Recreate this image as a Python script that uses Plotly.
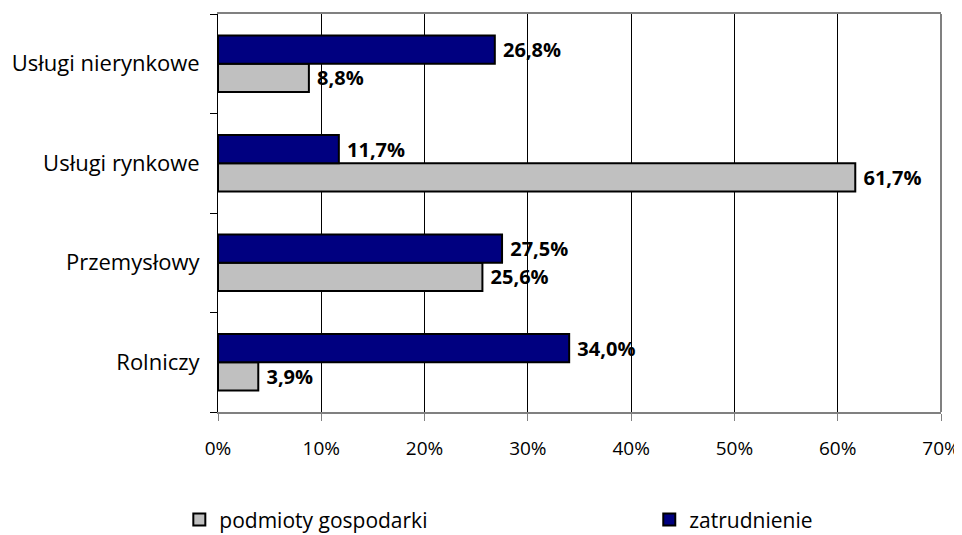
import plotly.graph_objects as go

categories = ["Rolniczy", "Przemysłowy", "Usługi rynkowe", "Usługi nierynkowe"]
podmioty = [3.9, 25.6, 61.7, 8.8]
zatrudnienie = [34.0, 27.5, 11.7, 26.8]
series_names = ["podmioty gospodarki", "zatrudnienie"]
x_ticks = [0, 10, 20, 30, 40, 50, 60, 70]
x_tick_labels = ["0%", "10%", "20%", "30%", "40%", "50%", "60%", "70%"]

FONT = "Open Sans"

def fmt(v):
    return "\u00a0" + f"{v:.1f}".replace(".", ",") + "%"

fig = go.Figure()
fig.add_trace(go.Bar(
    y=categories, x=podmioty, orientation="h", name=series_names[0],
    marker=dict(color="#C0C0C0", line=dict(color="black", width=2)),
    text=[fmt(v) for v in podmioty], textposition="outside",
    textfont=dict(family=FONT, size=20, color="black", weight="bold"),
    cliponaxis=False, legend="legend",
))
fig.add_trace(go.Bar(
    y=categories, x=zatrudnienie, orientation="h", name=series_names[1],
    marker=dict(color="#000080", line=dict(color="black", width=2)),
    text=[fmt(v) for v in zatrudnienie], textposition="outside",
    textfont=dict(family=FONT, size=20, color="black", weight="bold"),
    cliponaxis=False, legend="legend2",
))

legend_common = dict(orientation="h", yanchor="middle", y=-0.271, xanchor="left",
                     font=dict(family=FONT, size=21, color="black"),
                     bgcolor="rgba(0,0,0,0)", itemwidth=30)

# page body adds an 8px offset, so the figure is 954x527
fig.update_layout(
    width=954, height=527,
    margin=dict(l=210, r=21, t=6, b=123, autoexpand=False),
    barmode="group", bargap=0.43, bargroupgap=0,
    plot_bgcolor="white", paper_bgcolor="white",
    font=dict(family=FONT, size=16, color="black"),
    showlegend=True,
    legend=dict(x=-0.0535, **legend_common),
    legend2=dict(x=0.5965, **legend_common),
)
fig.update_xaxes(
    range=[0, 70], tickvals=x_ticks, ticktext=x_tick_labels,
    showgrid=True, gridcolor="black", gridwidth=1,
    showline=True, linecolor="#808080", linewidth=2, mirror=True,
    ticks="outside", ticklen=7, tickcolor="#808080", zeroline=False,
    ticklabelstandoff=11,
    tickfont=dict(family=FONT, size=19, color="black"),
)
fig.update_yaxes(
    categoryorder="array", categoryarray=categories,
    showline=True, linecolor="black", linewidth=1,
    ticks="outside", tickson="boundaries", ticklen=7, tickcolor="black",
    showgrid=False, ticklabelstandoff=13,
    tickfont=dict(family=FONT, size=22, color="black"),
)
fig.add_shape(type="line", xref="paper", yref="paper", x0=1, x1=1, y0=0, y1=1,
              line=dict(color="#808080", width=2))

fig.write_html("out.html")
